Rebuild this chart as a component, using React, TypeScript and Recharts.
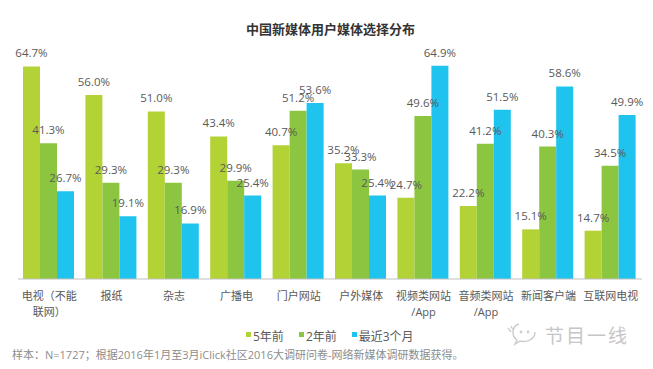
import { Bar, BarChart, LabelList, XAxis, YAxis } from "recharts";

const categories = [
  "电视（不能\n联网）",
  "报纸",
  "杂志",
  "广播电",
  "门户网站",
  "户外媒体",
  "视频类网站\n/App",
  "音频类网站\n/App",
  "新闻客户端",
  "互联网电视",
];
const fiveYearsAgo = [64.7, 56.0, 51.0, 43.4, 40.7, 35.2, 24.7, 22.2, 15.1, 14.7];
const twoYearsAgo = [41.3, 29.3, 29.3, 29.9, 51.2, 33.3, 49.6, 41.2, 40.3, 34.5];
const lastThreeMonths = [26.7, 19.1, 16.9, 25.4, 53.6, 25.4, 64.9, 51.5, 58.6, 49.9];

const SERIES = [
  { key: "a", label: "5年前", color: "#b3d236" },
  { key: "b", label: "2年前", color: "#8cc540" },
  { key: "c", label: "最近3个月", color: "#1ec3ee" },
];

const FONT = '"Open Sans", "Noto Sans CJK SC", sans-serif';
const TEXT = "#595959";

const data = categories.map((name, i) => ({
  name,
  a: fiveYearsAgo[i],
  b: twoYearsAgo[i],
  c: lastThreeMonths[i],
}));

function CategoryTick({ x, y, payload }: any) {
  const lines = String(payload.value).split("\n");
  return (
    <g>
      {lines.map((line, i) => (
        <text
          key={i}
          x={x}
          y={y + 21 + i * 16}
          textAnchor="middle"
          fontSize={11}
          fill={TEXT}
          fontFamily={FONT}
        >
          {line}
        </text>
      ))}
    </g>
  );
}

export default function App() {
  return (
    <div
      style={{
        position: "absolute",
        left: 0,
        top: 0,
        width: 653,
        height: 369,
        background: "#fff",
        fontFamily: FONT,
      }}
    >
      <div
        style={{
          position: "absolute",
          top: 19,
          left: 0,
          width: 653,
          textAlign: "center",
          paddingLeft: 4,
          fontSize: 13,
          fontWeight: 700,
          color: "#333",
        }}
      >
        中国新媒体用户媒体选择分布
      </div>

      <BarChart
        width={653}
        height={369}
        data={data}
        margin={{ top: 49, right: 11, bottom: 60, left: 18 }}
        barCategoryGap={5}
        barGap={0}
      >
        <YAxis hide domain={[0, 70]} />
        <XAxis
          dataKey="name"
          height={30}
          interval={0}
          tickLine={false}
          tickSize={0}
          tickMargin={0}
          axisLine={{ stroke: "#bfbfbf" }}
          tick={<CategoryTick />}
        />
        {SERIES.map((s) => (
          <Bar key={s.key} dataKey={s.key} fill={s.color} isAnimationActive={false}>
            <LabelList
              dataKey={s.key}
              position="top"
              offset={9}
              formatter={(v: any) => `${Number(v).toFixed(1)}%`}
              style={{ fontSize: 11.5, fill: TEXT, fontFamily: FONT }}
            />
          </Bar>
        ))}
      </BarChart>

      {/* legend */}
      <div
        style={{
          position: "absolute",
          top: 327,
          left: 246,
          display: "flex",
          gap: 15,
          fontSize: 12,
          color: TEXT,
        }}
      >
        {SERIES.map((s) => (
          <div key={s.key} style={{ display: "flex", alignItems: "flex-start" }}>
            <span
              style={{
                width: 5,
                height: 5,
                background: s.color,
                marginTop: 5,
                marginRight: 2,
              }}
            />
            <span>{s.label}</span>
          </div>
        ))}
      </div>

      {/* watermark */}
      <svg
        style={{ position: "absolute", left: 505, top: 320 }}
        width={36}
        height={26}
        viewBox="0 0 36 26"
      >
        <path
          d="M14 4 C 7 6, 6 16, 12 20 L 10 24 L 15 21 C 22 23, 30 19, 30 12"
          fill="none"
          stroke="#cfcfcf"
          strokeWidth={1.5}
        />
        <circle cx={16} cy={12} r={1.4} fill="#cfcfcf" />
        <circle cx={23} cy={12} r={1.4} fill="#cfcfcf" />
        <path d="M3 8 L6 12 M6 6 L8 10" stroke="#cfcfcf" strokeWidth={1.5} />
      </svg>
      <div
        style={{
          position: "absolute",
          left: 545,
          top: 321,
          fontSize: 19,
          color: "#c6c6c6",
          letterSpacing: 2,
        }}
      >
        节目一线
      </div>

      {/* footnote */}
      <div
        style={{
          position: "absolute",
          left: 12,
          top: 346,
          fontSize: 11,
          color: "#8c8c8c",
        }}
      >
        样本：N=1727；根据2016年1月至3月iClick社区2016大调研问卷-网络新媒体调研数据获得。
      </div>
    </div>
  );
}
